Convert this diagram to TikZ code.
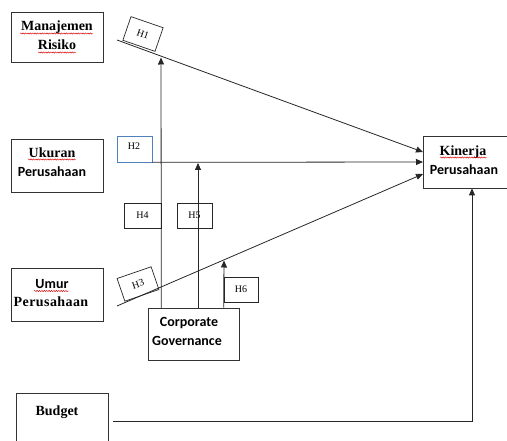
\documentclass[tikz,border=0pt]{standalone}
\usepackage{fontspec}
\setmainfont{Liberation Serif}
\newfontfamily\calfont{Carlito}
\usetikzlibrary{arrows.meta,decorations.pathmorphing}
\definecolor{hblue}{RGB}{79,129,189}
\begin{document}
\begin{tikzpicture}[x=1pt,y=-1pt,
  box/.style={draw=black!80, line width=0.8pt, inner sep=0pt},
  hbox/.style={draw=black!85, line width=0.7pt, minimum width=34pt, minimum height=25pt, inner sep=0pt, font=\fontsize{10}{12}\selectfont},
  conn/.style={line width=0.8pt, draw=black!85},
  arr/.style={conn, -{Triangle[length=7pt,width=6pt]}},
  serb/.style={anchor=base, inner sep=0pt, font=\fontsize{14}{19}\selectfont\bfseries},
  sans/.style={anchor=base, inner sep=0pt, font=\fontsize{14}{19}\selectfont\calfont\bfseries},
  squig/.style={red!85!black, line width=0.45pt, decorate, decoration={snake, amplitude=0.6pt, segment length=2.4pt}}
]
\useasboundingbox (0,0) rectangle (507,441);

% main boxes
\node[box, minimum width=92pt, minimum height=50pt] (mr) at (57,37) {};
\node[box, minimum width=92pt, minimum height=53pt] (uk) at (57,165.5) {};
\node[box, minimum width=92pt, minimum height=53pt] (um) at (57,294.5) {};
\node[box, minimum width=91pt, minimum height=52pt] (cg) at (193.5,334) {};
\node[box, minimum width=84pt, minimum height=52pt] (kin) at (465,162) {};
\node[box, minimum width=92pt, minimum height=56pt] (bud) at (62,421) {};

% texts
\node[serb] (t1) at (57,31) {Manajemen};
\node[serb] (t2) at (57,50) {Risiko};
\node[serb] (t3) at (52,157.5) {Ukuran};
\node[sans] (t4) at (52,176.5) {Perusahaan};
\node[sans] (t5) at (52,289) {Umur};
\node[serb] (t6) at (51,306.5) {\addfontfeature{LetterSpace=3}Perusahaan};
\node[serb] (t7) at (463,155.5) {Kinerja};
\node[sans] (t8) at (464,175) {Perusahaan};
\node[sans] (t9) at (189,327) {Corporate};
\node[sans] (t10) at (187,346) {Governance};
\node[serb] (t11) at (57,415.5) {Budget};

% spelling squiggles
\draw[squig] (20,33.5) -- (93,33.5);
\draw[squig] (38,52.5) -- (76,52.5);
\draw[squig] (28,159.5) -- (76,159.5);
\draw[squig] (34,291) -- (69,291);
\draw[squig] (440,157.5) -- (487,157.5);

% hypothesis boxes
\node[hbox, rotate=-19] (h1) at (143,34) {H1};
\node[hbox, draw=hblue, minimum width=35pt, minimum height=26pt] (h2) at (134.5,149) {};
\node[font=\fontsize{10}{12}\selectfont, inner sep=0pt] (h2t) at (134,146.5) {H2};
\node[hbox, rotate=19, minimum width=36pt, minimum height=24pt] (h3) at (138,284) {H3};
\node[hbox, minimum width=37pt] (h4) at (142.5,215.5) {H4};
\node[hbox, minimum width=35pt] (h5) at (194.5,215.5) {H5};
\node[hbox, minimum width=34pt] (h6) at (241,289.5) {H6};

% connectors
\coordinate (a1) at (117,40);
\coordinate (b1) at (423,152);
\draw[arr] (a1) -- (b1);
\coordinate (b2) at (423,162);
\draw[arr] (h2.south east) -- (b2);
\coordinate (a3) at (117,306);
\coordinate (b3) at (423,174);
\draw[arr] (a3) -- (b3);

\draw[arr] (cg.north -| h4.east) -- (161,57.5);
\draw[arr] (cg.north -| 198,0) -- (198,163);
\draw[arr] (cg.north -| h6.west) -- (224,260.5);

\coordinate (c0) at (113,421);
\coordinate (c1) at (472,421);
\draw[arr] (c0) -- (c1) -- (kin.south -| c1);
\end{tikzpicture}
\end{document}
